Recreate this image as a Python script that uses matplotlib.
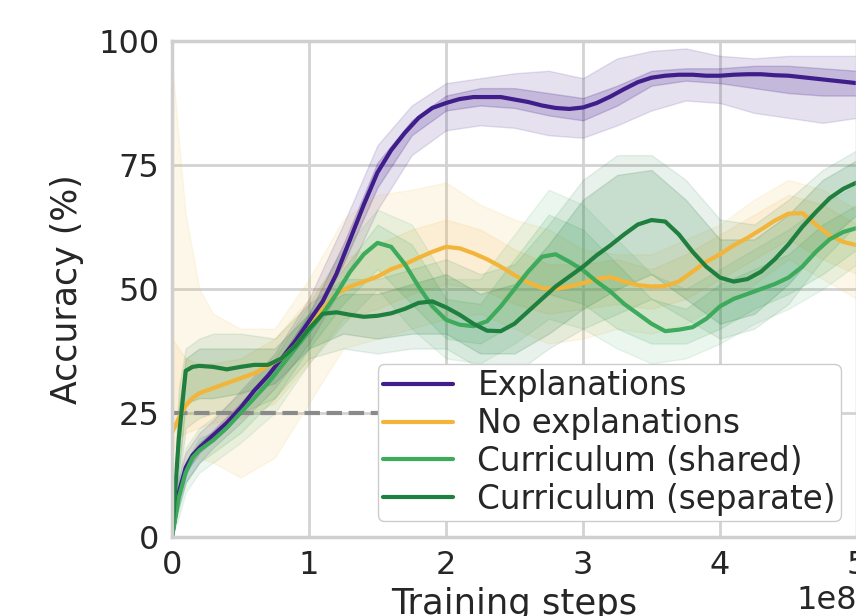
import numpy as np
import matplotlib
matplotlib.use("Agg")
import matplotlib.pyplot as plt
import seaborn as sns

# x positions in units of 1e8 training steps
x_line = [0, 0.05, 0.1, 0.15, 0.2, 0.3, 0.4, 0.5, 0.6, 0.7, 0.8, 0.9,
          1.0, 1.1, 1.2, 1.3, 1.4, 1.5, 1.6, 1.7, 1.8, 1.9,
          2.0, 2.1, 2.2, 2.3, 2.4, 2.5, 2.6, 2.7, 2.8, 2.9,
          3.0, 3.1, 3.2, 3.3, 3.4, 3.5, 3.6, 3.7, 3.8, 3.9,
          4.0, 4.1, 4.2, 4.3, 4.4, 4.5, 4.6, 4.7, 4.8, 4.9, 5.0]

acc_expl = [0, 9, 14, 16.5, 18, 20.5, 23, 26, 29.5, 32.5, 36, 39.5,
            43.5, 47.5, 53, 60, 67, 73.5, 78, 81.5, 84.5, 86.5,
            87.5, 88.3, 88.7, 88.7, 88.7, 88.2, 87.7, 87, 86.5, 86.3,
            86.6, 87.5, 88.8, 90.3, 91.7, 92.6, 93.0, 93.2, 93.2, 93.0,
            93.0, 93.2, 93.3, 93.3, 93.1, 93.0, 92.7, 92.4, 92.1, 91.8, 91.5]

acc_noexpl = [21, 24, 26.5, 28, 29, 30, 31, 32, 33, 34.5, 36, 38.5,
              42, 46, 49, 50.5, 51.5, 52.5, 54, 55, 56.3, 57.5,
              58.5, 58.2, 57.2, 56, 54.5, 52.8, 51.3, 50.2, 50, 50.5,
              51.2, 52, 52.4, 51.5, 50.8, 50.5, 50.6, 51.5, 53.5, 55.5,
              57, 58.8, 60.3, 62, 63.8, 65.2, 65.3, 63, 60.8, 59.5, 58.8]

acc_shared = [0, 8, 13, 16, 17.5, 19.5, 22, 25, 28, 31, 34.5, 38,
              41.5, 45, 49, 53.5, 57, 59.3, 58.5, 55, 50.5, 46.5,
              43.8, 42.8, 42.5, 43.5, 46.5, 50, 53.5, 56.5, 57, 55.5,
              53.8, 51.5, 49.5, 47, 45, 43, 41.5, 41.8, 42.3, 44,
              46.5, 48, 49, 50, 51, 52.3, 54.5, 57.5, 60, 61.5, 62.3]

acc_separate = [0, 20, 33.5, 34.3, 34.5, 34.3, 33.8, 34.3, 34.7, 34.7, 36, 38.5,
                42, 45, 45.3, 44.8, 44.4, 44.6, 45.1, 46, 47.2, 47.5,
                46.3, 44.8, 43, 41.6, 41.5, 43, 45.5, 48, 50.5, 52.5,
                54.5, 56.8, 58.8, 61, 63, 63.9, 63.6, 61, 57.5, 54.5,
                52.3, 51.5, 52, 53.5, 56, 59, 62.5, 65.5, 68.3, 70.2, 71.5]

# spread across seeds (coarser grid)
x_band = [0, 0.05, 0.1, 0.2, 0.3, 0.5, 0.75, 1.0, 1.25, 1.5, 1.75, 2.0,
          2.25, 2.5, 2.75, 3.0, 3.25, 3.5, 3.75, 4.0, 4.25, 4.5, 4.75, 5.0]

expl_out_lo = [0, 6, 11, 15, 18, 23, 30, 39, 51, 66, 77, 82,
               83, 82.5, 81, 80.5, 83, 86, 88, 87.5, 85.5, 84.5, 83.5, 84.5]
expl_out_hi = [2, 12, 17, 21, 23.5, 29.5, 37, 48, 63, 79, 87, 91.5,
               92.5, 93.5, 94, 92.5, 96.5, 98, 98.5, 97, 96.5, 97, 97, 97]
expl_in_lo = [0, 8, 13, 17, 19.5, 25, 32.5, 42, 55, 70.5, 81, 86,
              87, 86.5, 85, 84, 87, 91, 92, 91.5, 90.5, 89.5, 89, 89]
expl_in_hi = [1, 10, 15, 19, 21.5, 27, 34.5, 45, 59, 75.5, 84, 89,
              90.5, 90.5, 89.5, 88.5, 91, 94, 94.5, 94.5, 95, 95, 94.5, 94]

noexpl_out_lo = [12, 14, 15, 16, 15, 12, 16, 27, 38, 40, 42, 44,
                 45, 42, 39, 40, 42, 41, 43, 47, 51, 56, 52, 48]
noexpl_out_hi = [96, 80, 65, 50, 45, 42, 42, 52, 64, 69, 70, 71.5,
                 67, 64, 62, 58, 57, 57, 60, 63, 68, 72, 70, 66]
noexpl_in_lo = [17, 20, 21, 22, 23, 24, 27, 35, 44, 46, 49, 51,
                50, 47, 45, 46, 47, 46, 48, 52, 56, 60, 56, 53]
noexpl_in_hi = [40, 38, 36, 35, 35, 36, 40, 48, 56, 59, 62, 64,
                62, 58, 55, 55, 56, 54, 57, 61, 65, 69, 67, 63]

shared_out_lo = [0, 4, 9, 13, 15, 19, 25, 35, 43, 50, 42, 36,
                 35, 39, 44, 42, 38, 35, 36, 39, 43, 46, 50, 55]
shared_out_hi = [2, 12, 18, 22, 24, 29, 36, 47, 58, 66, 63, 52,
                 52, 61, 70, 67, 60, 53, 50, 54, 58, 62, 67, 71]
shared_in_lo = [0, 6, 11, 15, 17, 21, 28, 38, 47, 54, 47, 40,
                39, 43, 49, 47, 42, 39, 39, 42, 46, 49, 53, 58]
shared_in_hi = [1, 10, 15, 20, 21, 26, 33, 44, 54, 63, 59, 48,
                47, 56, 65, 62, 55, 48, 46, 51, 54, 57, 63, 67]

sep_out_lo = [0, 10, 22, 24, 25, 25, 28, 36, 38, 37, 38, 38,
              34, 33, 38, 42, 45, 48, 44, 40, 42, 47, 56, 63]
sep_out_hi = [2, 30, 38, 40, 41, 41, 40, 47, 52, 52, 54, 56,
              53, 55, 63, 72, 77, 77, 72, 64, 63, 68, 74, 78]
sep_in_lo = [0, 13, 27, 28, 28, 29, 31, 38, 41, 40, 41, 41,
             37, 37, 41, 46, 50, 53, 48, 43, 45, 51, 59, 65]
sep_in_hi = [1, 26, 36, 38, 38, 38, 38, 45, 49, 49, 51, 53,
             49, 51, 59, 68, 73, 74, 68, 60, 60, 65, 72, 76]

labels = ["Explanations", "No explanations",
          "Curriculum (shared)", "Curriculum (separate)"]
colors = ["#3f1d8a", "#f2b53a", "#3daa5c", "#1f7f3f"]

sns.set_style("whitegrid")
plt.rcParams["font.family"] = ["DejaVu Sans"]
plt.rcParams["grid.color"] = "#d3d3d3"
plt.rcParams["axes.edgecolor"] = "#cfcfcf"

fig = plt.figure(figsize=(8.56, 6.16), dpi=100)
ax = fig.add_axes([172 / 856, 1 - 537 / 616, 685 / 856, 496 / 616])

steps = np.array(x_line) * 1e8
bsteps = np.array(x_band) * 1e8

lines = [acc_expl, acc_noexpl, acc_shared, acc_separate]
bands = [
    (expl_out_lo, expl_out_hi, expl_in_lo, expl_in_hi, 0.13, 0.2),
    (noexpl_out_lo, noexpl_out_hi, noexpl_in_lo, noexpl_in_hi, 0.1, 0.12),
    (shared_out_lo, shared_out_hi, shared_in_lo, shared_in_hi, 0.1, 0.14),
    (sep_out_lo, sep_out_hi, sep_in_lo, sep_in_hi, 0.1, 0.16),
]

for (olo, ohi, ilo, ihi, a_out, a_in), c in zip(bands, colors):
    ax.fill_between(bsteps, olo, ohi, color=c, alpha=a_out, lw=1)
    ax.fill_between(bsteps, ilo, ihi, color=c, alpha=a_in, lw=1)

# chance level, runs in under the legend
ax.axhline(25, xmax=0.4, color="#8a8a8a", lw=3, ls="--", zorder=2)

for y, c, lab in zip(lines, colors, labels):
    ax.plot(steps, y, color=c, lw=3, label=lab)

ax.set_xlim(0, 5e8)
ax.set_ylim(0, 100)
ax.set_yticks([0, 25, 50, 75, 100])
ax.grid(True, lw=2)
for s in ax.spines.values():
    s.set_linewidth(2.5)
ax.tick_params(labelsize=23, pad=9, length=0, colors="#262626")
ax.xaxis.get_offset_text().set_fontsize(23)
ax.set_xlabel("Training steps", fontsize=25.5, labelpad=5, color="#262626")
ax.set_ylabel("Accuracy (%)", fontsize=25, labelpad=10, color="#262626")

leg = ax.legend(loc="lower right", fontsize=23.5, handlelength=2.15,
                borderaxespad=0.5, labelspacing=0.15, borderpad=0.15,
                handletextpad=0.75, framealpha=1, edgecolor="#cccccc")
for h in leg.get_lines():
    h.set_linewidth(3)

fig.savefig("out.png", dpi=100)
